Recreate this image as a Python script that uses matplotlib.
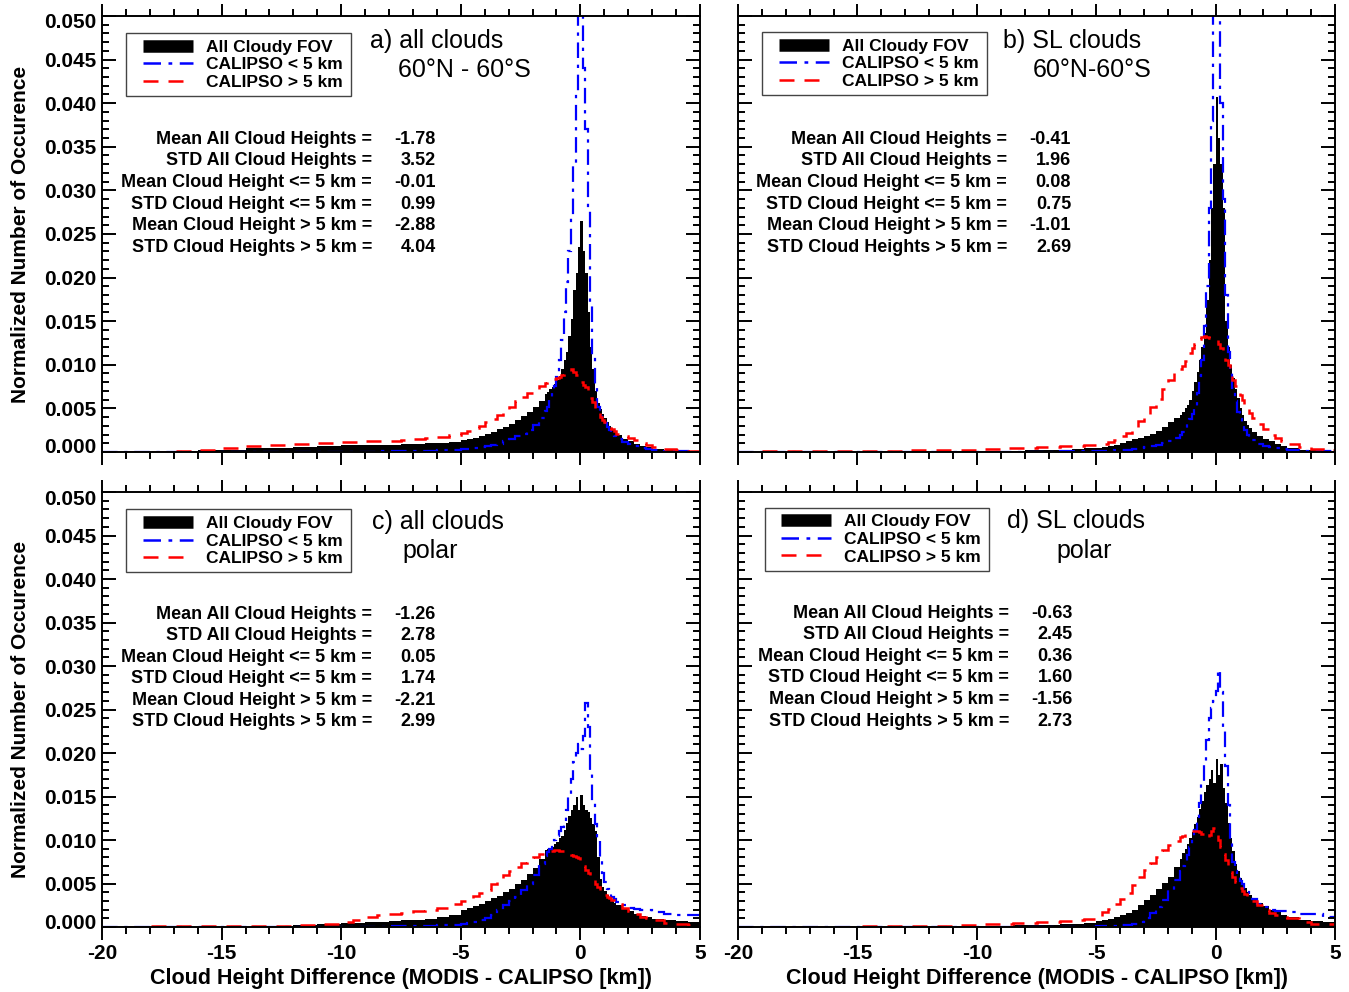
import numpy as np
import matplotlib
matplotlib.use('Agg')
import matplotlib.pyplot as plt
from matplotlib.lines import Line2D
from matplotlib.patches import Rectangle
from matplotlib.ticker import MultipleLocator
from matplotlib.transforms import ScaledTranslation

plt.rcParams['font.family'] = ['Liberation Sans', 'DejaVu Sans']

# bin edges (km): coarse in the tails, 0.1 km around the peak
edges = np.concatenate([np.arange(-20, -10) * 1.0,
                        np.arange(-20, -10) / 2,
                        np.arange(-20, -6) / 4,
                        np.arange(-15, 15) / 10,
                        np.arange(6, 12) / 4,
                        np.arange(6, 11) / 2])

# normalized occurrence per bin, in units of 0.001
# rows: -20..-10 (1 km), -10..-5 (0.5), -5..-1.5 (0.25), -1.5..1.5 (0.1), 1.5..5
a_all = [0.02, 0.03, 0.05, 0.10, 0.18, 0.28, 0.40, 0.50, 0.60, 0.70,
         0.75, 0.78, 0.80, 0.82, 0.85, 0.88, 0.92, 0.97, 1.05, 1.15,
         1.35, 1.50, 1.65, 1.80, 2.05, 2.30, 2.60, 2.90, 3.25, 3.70, 4.15, 4.60, 5.20, 5.90,
         6.6, 6.9, 7.2, 7.5, 7.8, 8.2, 8.7, 9.5, 10.5, 11.5, 13.3, 15.2, 18.6, 20.5, 23.5,
         26.5, 23.0, 20.5, 16.0, 12.0, 9.5, 7.0, 5.6, 4.9, 4.3, 3.9, 3.4, 3.0, 2.6, 2.3,
         2.0, 1.5, 1.2, 0.95, 0.7, 0.55, 0.38, 0.25, 0.17, 0.12]
a_low = [0.01, 0.01, 0.01, 0.01, 0.01, 0.01, 0.02, 0.02, 0.02, 0.03,
         0.03, 0.04, 0.05, 0.06, 0.08, 0.10, 0.12, 0.15, 0.19, 0.24,
         0.30, 0.38, 0.45, 0.55, 0.65, 0.78, 0.95, 1.25, 1.50, 1.80, 2.10, 2.50, 3.10, 3.90,
         4.7, 5.2, 6.0, 6.8, 7.6, 8.6, 10.5, 12.8, 16.0, 19.5, 23.0, 27.0, 33.0, 41.0, 50.5,
         50.5, 44.0, 37.0, 28.0, 17.0, 11.0, 7.5, 5.2, 4.3, 3.8, 3.3, 2.9, 2.5, 2.1, 1.8,
         1.5, 1.15, 0.9, 0.65, 0.45, 0.3, 0.18, 0.1, 0.06, 0.04]
a_high = [0.02, 0.03, 0.05, 0.10, 0.25, 0.45, 0.70, 0.85, 0.95, 1.05,
          1.10, 1.15, 1.20, 1.25, 1.30, 1.35, 1.45, 1.55, 1.75, 2.00,
          2.20, 2.45, 2.70, 3.00, 3.40, 3.80, 4.20, 4.70, 5.20, 5.80, 6.30, 6.80, 7.20, 7.60,
          7.9, 8.0, 8.2, 8.3, 8.4, 8.5, 8.6, 8.8, 8.9, 9.0, 9.3, 9.5, 9.2, 8.8, 8.2,
          8.0, 7.7, 7.4, 6.8, 6.2, 5.7, 5.0, 4.5, 4.0, 3.7, 3.4, 3.1, 2.8, 2.6, 2.4,
          2.1, 1.85, 1.6, 1.35, 1.05, 0.8, 0.55, 0.3, 0.2, 0.12]

b_all = [0.02, 0.02, 0.03, 0.03, 0.04, 0.05, 0.06, 0.07, 0.08, 0.09,
         0.10, 0.12, 0.14, 0.16, 0.18, 0.20, 0.24, 0.28, 0.33, 0.40,
         0.45, 0.55, 0.70, 0.85, 1.05, 1.25, 1.45, 1.65, 1.85, 2.10, 2.45, 2.90, 3.40, 3.90,
         4.2, 4.6, 5.0, 5.4, 6.0, 7.0, 8.0, 9.2, 10.6, 12.0, 13.6, 17.4, 22.0, 28.0, 33.0,
         40.7, 36.0, 33.0, 28.0, 15.0, 12.0, 10.0, 8.5, 7.2, 6.2, 5.0, 4.2, 3.6, 3.1, 2.7,
         2.3, 1.85, 1.5, 1.2, 0.95, 0.7, 0.45, 0.28, 0.18, 0.12]
b_low = [0.01, 0.01, 0.01, 0.01, 0.01, 0.01, 0.01, 0.01, 0.01, 0.01,
         0.02, 0.02, 0.03, 0.03, 0.04, 0.04, 0.05, 0.06, 0.07, 0.08,
         0.10, 0.12, 0.15, 0.18, 0.22, 0.28, 0.36, 0.45, 0.55, 0.68, 0.85, 1.05, 1.30, 1.60,
         1.9, 2.3, 2.7, 3.2, 3.8, 4.4, 5.3, 6.8, 8.7, 10.5, 14.5, 19.0, 28.0, 38.0, 60.0,
         58.0, 52.0, 40.0, 29.0, 18.0, 11.5, 9.0, 7.3, 5.8, 4.6, 3.8, 3.1, 2.5, 2.0, 1.7,
         1.35, 0.95, 0.7, 0.55, 0.42, 0.32, 0.22, 0.14, 0.09, 0.06]
b_high = [0.05, 0.06, 0.07, 0.08, 0.10, 0.12, 0.15, 0.18, 0.22, 0.28,
          0.32, 0.35, 0.40, 0.45, 0.50, 0.55, 0.60, 0.65, 0.70, 0.78,
          0.85, 0.95, 1.15, 1.40, 1.80, 2.20, 2.90, 3.60, 4.30, 5.20, 6.10, 7.20, 8.20, 9.00,
          9.5, 9.9, 10.4, 10.8, 11.3, 11.9, 12.4, 12.7, 13.0, 13.2, 13.3, 13.2, 13.1, 13.0, 12.9,
          12.8, 12.4, 11.9, 11.4, 10.6, 10.0, 9.2, 8.3, 7.6, 7.0, 6.5, 6.0, 5.4, 4.9, 4.5,
          3.9, 3.2, 2.6, 2.0, 1.6, 1.3, 0.9, 0.55, 0.35, 0.2]

c_all = [0.02, 0.02, 0.02, 0.03, 0.03, 0.04, 0.06, 0.10, 0.20, 0.35,
         0.45, 0.50, 0.55, 0.60, 0.65, 0.75, 0.85, 0.95, 1.10, 1.40,
         1.90, 2.15, 2.40, 2.70, 3.00, 3.30, 3.60, 4.00, 4.40, 4.90, 5.40, 6.10, 6.80, 7.80,
         8.8, 9.0, 9.1, 9.2, 9.5, 9.8, 10.2, 10.5, 11.2, 12.0, 12.8, 13.5, 14.0, 14.9, 13.5,
         15.2, 14.0, 13.5, 13.2, 12.5, 11.8, 11.0, 8.0, 5.5, 4.6, 4.1, 3.7, 3.3, 3.0, 2.8,
         2.5, 2.1, 1.8, 1.5, 1.3, 1.15, 0.95, 0.8, 0.65, 0.55]
c_low = [0.01, 0.01, 0.01, 0.01, 0.01, 0.01, 0.01, 0.01, 0.02, 0.02,
         0.03, 0.04, 0.05, 0.06, 0.07, 0.09, 0.11, 0.14, 0.19, 0.26,
         0.35, 0.45, 0.60, 0.80, 1.05, 1.40, 1.90, 2.50, 3.00, 3.50, 4.20, 5.00, 6.00, 7.30,
         8.2, 8.6, 9.0, 9.5, 10.0, 10.5, 11.0, 11.5, 12.2, 13.5, 15.0, 17.0, 19.0, 20.0, 21.0,
         20.5, 22.0, 25.8, 23.0, 18.0, 14.5, 11.8, 10.0, 8.0, 6.2, 5.2, 4.4, 3.9, 3.5, 3.2,
         2.9, 2.5, 2.2, 2.05, 1.95, 1.9, 1.75, 1.55, 1.4, 1.35]
c_high = [0.05, 0.06, 0.07, 0.08, 0.09, 0.10, 0.12, 0.15, 0.22, 0.35,
          0.60, 0.80, 1.10, 1.35, 1.50, 1.65, 1.80, 1.95, 2.20, 2.60,
          3.00, 3.30, 3.60, 3.90, 4.30, 4.90, 5.60, 6.00, 6.40, 6.90, 7.40, 7.80, 8.10, 8.40,
          8.5, 8.6, 8.7, 8.7, 8.8, 8.8, 8.7, 8.7, 8.6, 8.5, 8.4, 8.3, 8.2, 8.0, 7.9,
          7.5, 7.0, 6.6, 6.2, 5.8, 5.4, 5.0, 4.6, 4.3, 3.9, 3.7, 3.5, 3.3, 3.1, 3.0,
          2.7, 2.2, 1.8, 1.5, 1.2, 1.0, 0.75, 0.5, 0.35, 0.2]

d_all = [0.01, 0.01, 0.02, 0.02, 0.03, 0.04, 0.05, 0.06, 0.08, 0.10,
         0.12, 0.14, 0.16, 0.18, 0.20, 0.23, 0.27, 0.32, 0.40, 0.50,
         0.65, 0.80, 0.95, 1.15, 1.35, 1.65, 2.00, 2.50, 3.10, 3.70, 4.40, 5.10, 5.80, 6.90,
         7.8, 8.5, 9.0, 9.6, 10.2, 10.9, 11.8, 12.6, 13.6, 14.5, 15.5, 16.3, 17.0, 18.1, 16.5,
         19.3, 17.5, 18.7, 16.0, 14.3, 12.0, 10.2, 8.7, 7.3, 6.4, 5.6, 5.0, 4.5, 4.0, 3.7,
         3.3, 2.8, 2.4, 2.0, 1.7, 1.4, 1.1, 0.85, 0.7, 0.55]
d_low = [0.01, 0.01, 0.01, 0.01, 0.01, 0.01, 0.01, 0.01, 0.01, 0.01,
         0.02, 0.02, 0.02, 0.03, 0.03, 0.03, 0.04, 0.04, 0.05, 0.06,
         0.08, 0.10, 0.12, 0.15, 0.20, 0.25, 0.35, 0.60, 1.00, 1.60, 2.30, 3.10, 4.20, 5.40,
         6.4, 7.0, 7.6, 8.3, 9.2, 10.2, 11.2, 12.5, 14.2, 16.5, 19.0, 21.5, 24.0, 25.2, 26.0,
         27.1, 29.6, 27.0, 23.0, 18.5, 14.0, 10.0, 7.5, 6.4, 5.8, 5.3, 4.9, 4.4, 4.0, 3.7,
         3.2, 2.7, 2.3, 2.0, 1.85, 1.8, 1.75, 1.5, 1.5, 1.1]
d_high = [0.03, 0.03, 0.04, 0.05, 0.06, 0.07, 0.08, 0.10, 0.15, 0.20,
          0.30, 0.35, 0.40, 0.45, 0.50, 0.55, 0.60, 0.65, 0.75, 0.90,
          1.30, 1.70, 2.10, 2.60, 3.20, 3.90, 4.80, 5.70, 6.60, 7.40, 8.10, 8.80, 9.40, 9.90,
          10.3, 10.5, 10.7, 10.8, 10.9, 11.0, 11.0, 11.0, 10.9, 10.7, 10.4, 10.2, 10.6, 11.0, 11.4,
          10.8, 10.0, 9.2, 8.4, 7.7, 7.0, 6.3, 5.7, 5.2, 4.8, 4.5, 4.1, 3.8, 3.6, 3.4,
          3.0, 2.5, 2.0, 1.6, 1.35, 1.2, 1.0, 0.6, 0.4, 0.3]

stat_names = ['Mean All Cloud Heights =', 'STD All Cloud Heights =',
              'Mean Cloud Height <= 5 km =', 'STD Cloud Height <= 5 km =',
              'Mean Cloud Height > 5 km =', 'STD Cloud Heights > 5 km =']
a_stats = ['-1.78', '3.52', '-0.01', '0.99', '-2.88', '4.04']
b_stats = ['-0.41', '1.96', '0.08', '0.75', '-1.01', '2.69']
c_stats = ['-1.26', '2.78', '0.05', '1.74', '-2.21', '2.99']
d_stats = ['-0.63', '2.45', '0.36', '1.60', '-1.56', '2.73']

titles = [('a) all clouds', '60°N - 60°S'), ('b) SL clouds', '60°N-60°S'),
          ('c) all clouds', 'polar'), ('d) SL clouds', 'polar')]
leg_labels = ['All Cloudy FOV', 'CALIPSO < 5 km', 'CALIPSO > 5 km']
xticks = [-20, -15, -10, -5, 0, 5]
yticks = [0.000, 0.005, 0.010, 0.015, 0.020, 0.025, 0.030, 0.035, 0.040, 0.045, 0.050]

fig = plt.figure(figsize=(13.49, 9.92), dpi=100)

rects = [[0.0756, 0.5444, 0.4433, 0.4395], [0.5471, 0.5444, 0.4426, 0.4395],
         [0.0756, 0.0655, 0.4433, 0.4385], [0.5471, 0.0655, 0.4426, 0.4385]]
# x of first / second title line (axes fraction), y of title lines
title_x = [(0.448, 0.495), (0.444, 0.494), (0.452, 0.502), (0.451, 0.533)]
title_y = [(0.942, 0.877), (0.942, 0.877), (0.931, 0.864), (0.933, 0.864)]
stat_x = [(0.4515, 0.5585), (0.4506, 0.5578), (0.4515, 0.5585), (0.454, 0.561)]
stat_y0 = [0.717, 0.717, 0.719, 0.721]
# legend frame (x0, x1, y0, y1) and handle anchor (x, y of first row top)
leg_box = [(0.040, 0.4164, 0.8165, 0.961), (0.0402, 0.4171, 0.819, 0.963),
           (0.040, 0.4164, 0.816, 0.961), (0.0452, 0.4204, 0.8184, 0.963)]
leg_anchor = [(0.0686, 0.946), (0.0687, 0.948), (0.0686, 0.945), (0.072, 0.949)]

series = [(a_all, a_low, a_high, a_stats), (b_all, b_low, b_high, b_stats),
          (c_all, c_low, c_high, c_stats), (d_all, d_low, d_high, d_stats)]

blue_ls = (0, (7, 3, 1.5, 3))
red_ls = (0, (6, 4))
handles = [Line2D([], [], color='black', lw=9, solid_capstyle='butt'),
           Line2D([], [], color='blue', lw=1.8, linestyle=blue_ls),
           Line2D([], [], color='red', lw=1.8, linestyle=red_ls)]

for i, (h_all, h_low, h_high, stats) in enumerate(series):
    ax = fig.add_axes(rects[i])
    ax.stairs(np.array(h_all) * 1e-3, edges, fill=True, color='black', lw=0)
    ax.stairs(np.array(h_low) * 1e-3, edges, baseline=None, color='blue', lw=1.6,
              linestyle=blue_ls)
    ax.stairs(np.array(h_high) * 1e-3, edges, baseline=None, color='red', lw=1.8,
              linestyle=red_ls)
    ax.set_xlim(-20, 5)
    ax.set_ylim(0, 0.050)
    ax.set_xticks(xticks)
    ax.set_yticks(yticks)
    ax.xaxis.set_minor_locator(MultipleLocator(1))
    ax.yaxis.set_minor_locator(MultipleLocator(0.001))
    ax.tick_params(axis='y', which='both', direction='in', left=True, right=True, width=1.4)
    ax.tick_params(axis='y', which='major', length=10, pad=4, labelsize=15)
    ax.tick_params(axis='y', which='minor', length=5)
    ax.tick_params(axis='x', which='both', direction='out', top=True, bottom=True, width=1.4)
    ax.tick_params(axis='x', which='major', length=9, pad=3, labelsize=15)
    ax.tick_params(axis='x', which='minor', length=5)
    for s in ax.spines.values():
        s.set_linewidth(1.4)

    if i % 2 == 0:
        ax.set_yticklabels(['%.3f' % v for v in yticks], fontweight='bold')
        ylab = ax.get_yticklabels()
        ylab[0].set_transform(ylab[0].get_transform() +
                              ScaledTranslation(0, 6 / 100, fig.dpi_scale_trans))
        ylab[-1].set_transform(ylab[-1].get_transform() +
                               ScaledTranslation(0, -5 / 100, fig.dpi_scale_trans))
        ax.set_ylabel('Normalized Number of Occurence', fontsize=15, fontweight='bold')
        ax.yaxis.set_label_coords(-0.12, 0.5)
    else:
        ax.set_yticklabels([])
    if i >= 2:
        ax.set_xticklabels([str(v) for v in xticks], fontweight='bold')
        ax.set_xlabel('Cloud Height Difference (MODIS - CALIPSO [km])', fontsize=15.5,
                      fontweight='bold')
        ax.xaxis.set_label_coords(0.5, -0.094)
    else:
        ax.set_xticklabels([])

    ax.text(title_x[i][0], title_y[i][0], titles[i][0], transform=ax.transAxes,
            fontsize=18, va='center', ha='left')
    ax.text(title_x[i][1], title_y[i][1], titles[i][1], transform=ax.transAxes,
            fontsize=18, va='center', ha='left')

    for k in range(6):
        yy = stat_y0[i] - k * 0.0495
        ax.text(stat_x[i][0], yy, stat_names[k], transform=ax.transAxes, fontsize=13,
                fontweight='bold', ha='right', va='center')
        ax.text(stat_x[i][1], yy, stats[k], transform=ax.transAxes, fontsize=13,
                fontweight='bold', ha='right', va='center')

    x0, x1, y0, y1 = leg_box[i]
    ax.add_patch(Rectangle((x0, y0), x1 - x0, y1 - y0, transform=ax.transAxes,
                           facecolor='white', edgecolor='#444444', lw=1.0, zorder=4))
    leg = ax.legend(handles, leg_labels, loc='upper left', bbox_to_anchor=leg_anchor[i],
                    borderaxespad=0, borderpad=0, frameon=False,
                    prop={'size': 12.5, 'weight': 'bold'}, handlelength=2.9,
                    handletextpad=0.75, labelspacing=0.14)
    leg.set_zorder(5)

fig.savefig('out.png', dpi=100)
